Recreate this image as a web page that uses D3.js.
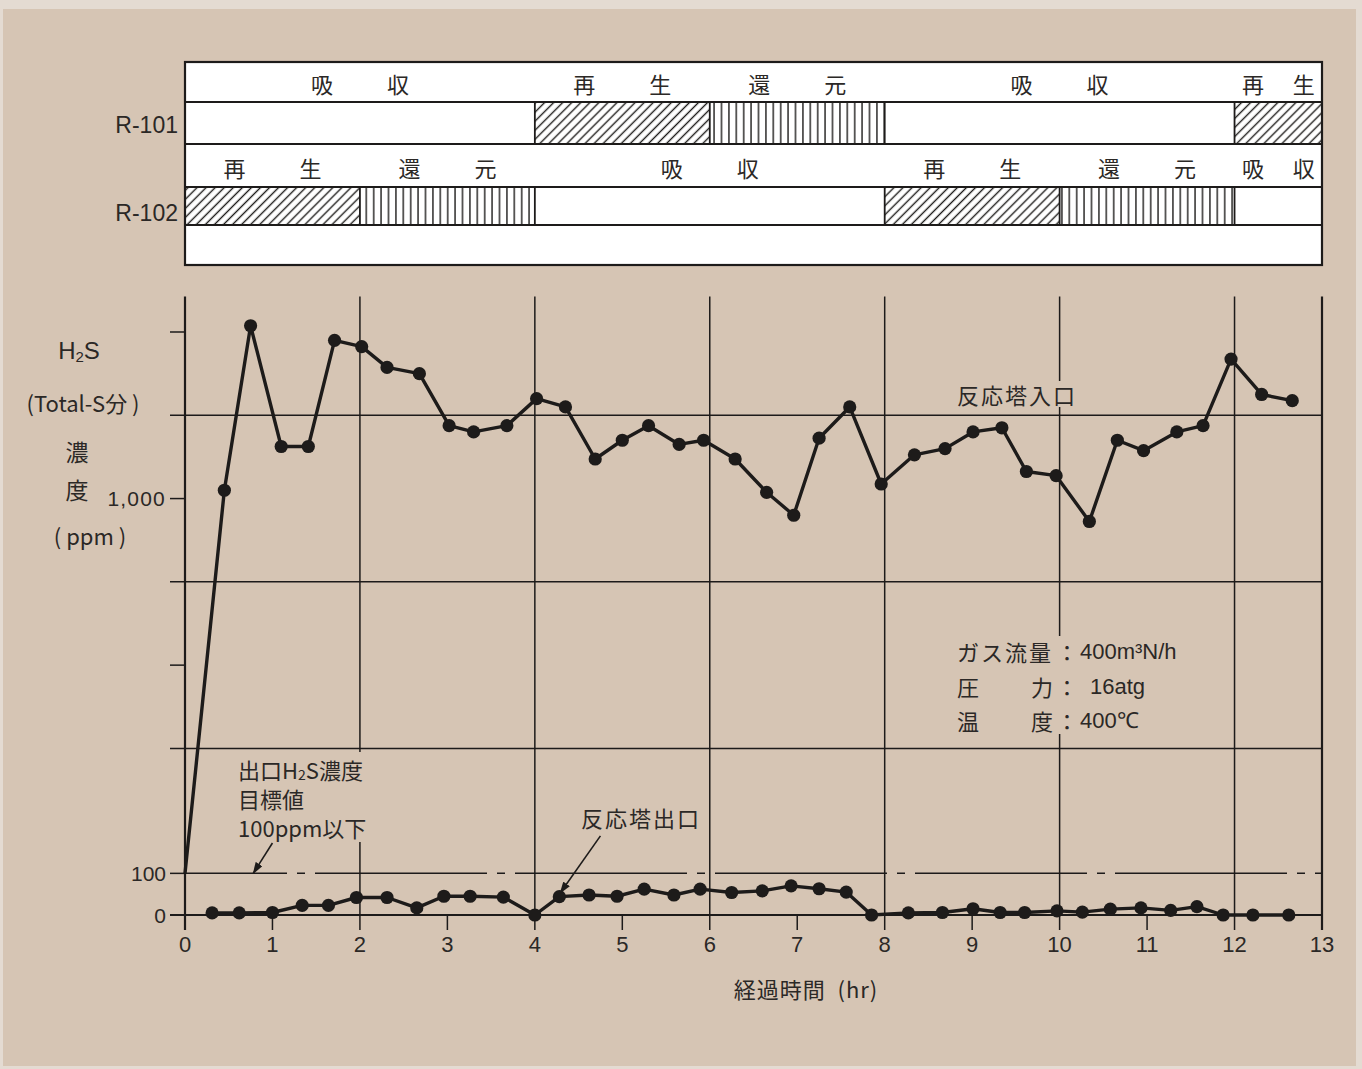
<!DOCTYPE html>
<html>
<head>
<meta charset="utf-8">
<script src="https://cdn.jsdelivr.net/npm/d3@7"></script>
<style>
  html, body { margin: 0; padding: 0; background: #d6c5b4; }
  svg { display: block; }
</style>
</head>
<body>
<svg id="chart" width="1362" height="1069"></svg>
<script>
// ---- data ---------------------------------------------------------------
// Elapsed time (hr) and H2S (Total-S) concentration (ppm) at the reactor inlet
const inletHours = [0, 0.45, 0.75, 1.10, 1.41, 1.71, 2.02, 2.31, 2.68, 3.02, 3.30, 3.68,
  4.02, 4.35, 4.69, 5.00, 5.30, 5.65, 5.93, 6.29, 6.65, 6.96, 7.25, 7.60, 7.96,
  8.34, 8.69, 9.01, 9.34, 9.62, 9.96, 10.34, 10.66, 10.96, 11.34, 11.64, 11.96, 12.31, 12.66];
const inletPpm = [100, 1020, 1415, 1125, 1125, 1380, 1365, 1315, 1300, 1175, 1160, 1175,
  1240, 1220, 1095, 1140, 1175, 1130, 1140, 1095, 1015, 960, 1145, 1220, 1035,
  1105, 1120, 1160, 1170, 1065, 1055, 945, 1140, 1115, 1160, 1175, 1335, 1250, 1235];

// Reactor outlet
const outletHours = [0.31, 0.62, 1.00, 1.34, 1.64, 1.96, 2.31, 2.65, 2.96, 3.26, 3.64, 4.00,
  4.28, 4.62, 4.94, 5.25, 5.59, 5.89, 6.25, 6.60, 6.93, 7.25, 7.56, 7.85,
  8.27, 8.66, 9.01, 9.32, 9.60, 9.97, 10.26, 10.58, 10.93, 11.27, 11.57, 11.87, 12.21, 12.62];
const outletPpm = [5, 5, 6, 23, 23, 42, 42, 17, 45, 45, 43, 0,
  44, 48, 45, 62, 48, 62, 54, 58, 70, 63, 55, 0,
  5, 6, 15, 6, 6, 10, 7, 14, 17, 11, 20, 0, 0, 0];

// Operating schedule of the two reactors (hr)
const r101Phase = ["吸収", "再生", "還元", "吸収", "再生"];
const r101Start = [0, 4, 6, 8, 12];
const r101End   = [4, 6, 8, 12, 13];
const r102Phase = ["再生", "還元", "吸収", "再生", "還元", "吸収"];
const r102Start = [0, 2, 4, 8, 10, 12];
const r102End   = [2, 4, 8, 10, 12, 13];

// Axes
const xTicks = d3.range(0, 14);
const xGridHours = [2, 4, 6, 8, 10, 12];
const yGridPpm = [400, 800, 1200];
const yTickOnlyPpm = [600, 1000, 1400];
const yLabelPpm = [0, 100, 1000];
const targetPpm = 100;
const yTopPpm = 1485;

// Operating conditions
const condLabels = ["ガス流量", "圧力", "温度"];
const condValues = ["400m³N/h", "16atg", "400℃"];

// ---- drawing ------------------------------------------------------------
const bg = "#d6c5b4";
const paperEdge = "#e4dbd2";
const ink = "#1d1b1a";
const textInk = "#2b2826";
const jp = "'Noto Sans CJK JP', 'Noto Sans', sans-serif";
const latin = "'Liberation Sans', Arial, sans-serif";

const svg = d3.select("#chart");
svg.append("rect").attr("width", 1362).attr("height", 1069).attr("fill", paperEdge);
svg.append("rect").attr("x", 3).attr("y", 9).attr("width", 1353).attr("height", 1057).attr("fill", bg);

const x = d3.scaleLinear().domain([0, 13]).range([185, 1322]);
const y = d3.scaleLinear().domain([0, yTopPpm]).range([915, 296.6]);

const defs = svg.append("defs");
defs.append("pattern")
  .attr("id", "hatchDiag").attr("patternUnits", "userSpaceOnUse")
  .attr("width", 6.4).attr("height", 6.4).attr("patternTransform", "rotate(45)")
  .append("line").attr("x1", 3.2).attr("y1", -1).attr("x2", 3.2).attr("y2", 7.4)
  .attr("stroke", ink).attr("stroke-width", 1.4);
defs.append("pattern")
  .attr("id", "hatchVert").attr("patternUnits", "userSpaceOnUse")
  .attr("width", 7.4).attr("height", 10)
  .append("line").attr("x1", 3.7).attr("y1", -1).attr("x2", 3.7).attr("y2", 11)
  .attr("stroke", ink).attr("stroke-width", 1.4);
defs.append("marker")
  .attr("id", "arrow").attr("markerUnits", "userSpaceOnUse")
  .attr("viewBox", "0 0 12 8").attr("refX", 11).attr("refY", 4)
  .attr("markerWidth", 12).attr("markerHeight", 8).attr("orient", "auto")
  .append("path").attr("d", "M0,0 L12,4 L0,8 Z").attr("fill", ink);

// ---- schedule panel ----
const panel = svg.append("g");
const rowY = [62, 102, 144, 187, 225, 265];
panel.append("rect")
  .attr("x", x(0)).attr("y", rowY[0])
  .attr("width", x(13) - x(0)).attr("height", rowY[5] - rowY[0])
  .attr("fill", "#ffffff").attr("stroke", ink).attr("stroke-width", 2.2);

const hatchOf = { "再生": "url(#hatchDiag)", "還元": "url(#hatchVert)", "吸収": null };

function drawReactor(name, phases, starts, ends, labelTop, barTop, barBottom, nameY) {
  const segs = phases.map((p, i) => ({ p, s: starts[i], e: ends[i] }));
  const g = panel.append("g");
  g.selectAll("rect.seg").data(segs.filter(d => hatchOf[d.p])).join("rect")
    .attr("x", d => x(d.s)).attr("y", barTop)
    .attr("width", d => x(d.e) - x(d.s)).attr("height", barBottom - barTop)
    .attr("fill", d => hatchOf[d.p]);
  // segment boundaries
  g.selectAll("line.edge").data(segs.slice(1)).join("line")
    .attr("x1", d => x(d.s)).attr("x2", d => x(d.s))
    .attr("y1", barTop).attr("y2", barBottom)
    .attr("stroke", ink).attr("stroke-width", 1.8);
  // phase names, characters spread over the segment
  segs.forEach(d => {
    const cx = (x(d.s) + x(d.e)) / 2;
    const off = Math.min(38, (x(d.e) - x(d.s)) * 0.29);
    [...d.p].forEach((ch, k) => {
      g.append("text")
        .attr("x", cx + (k === 0 ? -off : off)).attr("y", labelTop)
        .attr("text-anchor", "middle").attr("dominant-baseline", "central")
        .attr("font-family", jp).attr("font-size", 22).attr("fill", textInk)
        .text(ch);
    });
  });
  g.append("text")
    .attr("x", 178).attr("y", nameY)
    .attr("text-anchor", "end").attr("dominant-baseline", "central")
    .attr("font-family", latin).attr("font-size", 23).attr("fill", textInk)
    .text(name);
}

[rowY[1], rowY[2], rowY[3], rowY[4]].forEach(yy => {
  panel.append("line").attr("x1", x(0)).attr("x2", x(13))
    .attr("y1", yy).attr("y2", yy).attr("stroke", ink).attr("stroke-width", 1.8);
});
drawReactor("R-101", r101Phase, r101Start, r101End, 83, rowY[1], rowY[2], 125);
drawReactor("R-102", r102Phase, r102Start, r102End, 167, rowY[3], rowY[4], 213);

// ---- grid and axes ----
const grid = svg.append("g").attr("stroke", ink).attr("fill", "none");
const yTop = y(yTopPpm);
const yBottomTick = y(0) + 15;

grid.selectAll("line.hg").data(yGridPpm).join("line")
  .attr("x1", x(0) - 15).attr("x2", x(13))
  .attr("y1", d => y(d)).attr("y2", d => y(d)).attr("stroke-width", 1.5);
grid.selectAll("line.ht").data(yTickOnlyPpm).join("line")
  .attr("x1", x(0) - 15).attr("x2", x(0))
  .attr("y1", d => y(d)).attr("y2", d => y(d)).attr("stroke-width", 1.5);
// target line (dash-dot)
grid.append("line").attr("x1", x(0) - 15).attr("x2", x(0))
  .attr("y1", y(targetPpm)).attr("y2", y(targetPpm)).attr("stroke-width", 1.5);
grid.append("line").attr("x1", x(0)).attr("x2", x(13))
  .attr("y1", y(targetPpm)).attr("y2", y(targetPpm)).attr("stroke-width", 1.5)
  .attr("stroke-dasharray", "172,10,8,10").attr("stroke-dashoffset", 70);

grid.selectAll("line.vg").data(xGridHours).join("line")
  .attr("x1", d => x(d)).attr("x2", d => x(d))
  .attr("y1", yTop).attr("y2", yBottomTick).attr("stroke-width", 1.5);
grid.selectAll("line.vt").data(xTicks.filter(t => !xGridHours.includes(t))).join("line")
  .attr("x1", d => x(d)).attr("x2", d => x(d))
  .attr("y1", d => (d === 0 || d === 13) ? yTop : y(0)).attr("y2", yBottomTick)
  .attr("stroke-width", d => (d === 0 || d === 13) ? 2.2 : 1.5);
grid.append("line").attr("x1", x(0) - 15).attr("x2", x(13))
  .attr("y1", y(0)).attr("y2", y(0)).attr("stroke-width", 2.2);

// tick labels
svg.append("g").selectAll("text").data(xTicks).join("text")
  .attr("x", d => x(d)).attr("y", 944)
  .attr("text-anchor", "middle").attr("dominant-baseline", "central")
  .attr("font-family", latin).attr("font-size", 22).attr("fill", textInk)
  .text(d => d);
svg.append("g").selectAll("text").data(yLabelPpm).join("text")
  .attr("x", 166).attr("y", d => y(d))
  .attr("text-anchor", "end").attr("dominant-baseline", "central")
  .attr("font-family", latin).attr("font-size", 21).attr("fill", textInk)
  .attr("letter-spacing", d => d >= 1000 ? 1.2 : 0)
  .text(d => d3.format(",")(d));

svg.append("text").attr("x", 806).attr("y", 988)
  .attr("text-anchor", "middle").attr("dominant-baseline", "central")
  .attr("font-family", jp).attr("font-size", 22).attr("letter-spacing", 1)
  .attr("fill", textInk).attr("xml:space", "preserve")
  .text("経過時間  (hr)");

// y-axis title
const yt = svg.append("g").attr("fill", textInk).attr("text-anchor", "middle")
  .attr("dominant-baseline", "central");
const h2s = yt.append("text").attr("x", 79).attr("y", 350)
  .attr("font-family", latin).attr("font-size", 24);
h2s.append("tspan").text("H");
h2s.append("tspan").attr("font-size", 15).attr("dy", 6).text("2");
h2s.append("tspan").attr("dy", -6).text("S");
yt.append("text").attr("x", 83).attr("y", 402).attr("font-family", jp).attr("font-size", 22)
  .attr("xml:space", "preserve").text("(Total-S分 )");
yt.append("text").attr("x", 77).attr("y", 451).attr("font-family", jp).attr("font-size", 23).text("濃");
yt.append("text").attr("x", 77).attr("y", 489).attr("font-family", jp).attr("font-size", 23).text("度");
yt.append("text").attr("x", 90).attr("y", 535).attr("font-family", jp).attr("font-size", 22)
  .attr("xml:space", "preserve").text("( ppm )");

// ---- annotations (with a paper-coloured backing so grid lines break behind them) ----
const ann = svg.append("g").attr("font-family", jp).attr("font-size", 22).attr("fill", textInk);
ann.append("rect").attr("x", 234).attr("y", 752).attr("width", 148).attr("height", 90).attr("fill", bg);
const t1 = ann.append("text").attr("x", 238).attr("y", 769).attr("dominant-baseline", "central");
t1.append("tspan").text("出口H");
t1.append("tspan").attr("font-size", 14).attr("dy", 5).text("2");
t1.append("tspan").attr("dy", -5).text("S濃度");
ann.append("text").attr("x", 238).attr("y", 798).attr("dominant-baseline", "central").text("目標値");
ann.append("text").attr("x", 238).attr("y", 827).attr("dominant-baseline", "central").text("100ppm以下");

ann.append("rect").attr("x", 953).attr("y", 381).attr("width", 128).attr("height", 26).attr("fill", bg);
ann.append("text").attr("x", 957).attr("y", 394).attr("dominant-baseline", "central")
  .attr("letter-spacing", 2).text("反応塔入口");
ann.append("text").attr("x", 581).attr("y", 817).attr("dominant-baseline", "central")
  .attr("letter-spacing", 2).text("反応塔出口");

// arrows point at positions on the data
svg.append("line")
  .attr("x1", x(1.0)).attr("y1", y(173)).attr("x2", x(0.78)).attr("y2", y(100))
  .attr("stroke", ink).attr("stroke-width", 1.6).attr("marker-end", "url(#arrow)");
svg.append("line")
  .attr("x1", x(4.75)).attr("y1", y(190)).attr("x2", x(4.29)).attr("y2", y(53))
  .attr("stroke", ink).attr("stroke-width", 1.6).attr("marker-end", "url(#arrow)");

// operating conditions block
ann.append("rect").attr("x", 952).attr("y", 636).attr("width", 244).attr("height", 98).attr("fill", bg);
const condY = [651, 686, 720];
condLabels.forEach((lab, i) => {
  const t = ann.append("text").attr("y", condY[i]).attr("dominant-baseline", "central");
  if (lab.length === 4) {
    t.append("tspan").attr("x", 957).attr("letter-spacing", 2).text(lab);
  } else {
    t.append("tspan").attr("x", 957).text(lab[0]);
    t.append("tspan").attr("x", 1031).text(lab[1]);
  }
  t.append("tspan").attr("x", 1056).text("：");
  t.append("tspan").attr("x", i === 1 ? 1090 : 1080).attr("font-family", latin).text(condValues[i]);
});

// ---- series ----
const line = d3.line().x(d => x(d[0])).y(d => y(d[1]));
const inlet = inletHours.map((h, i) => [h, inletPpm[i]]);
const outlet = outletHours.map((h, i) => [h, outletPpm[i]]);

const series = svg.append("g");
series.append("path").datum(inlet).attr("d", line)
  .attr("fill", "none").attr("stroke", ink).attr("stroke-width", 3.4).attr("stroke-linejoin", "round");
series.selectAll("circle.in").data(inlet.slice(1)).join("circle")
  .attr("cx", d => x(d[0])).attr("cy", d => y(d[1])).attr("r", 6.6).attr("fill", ink);
series.append("path").datum(outlet).attr("d", line)
  .attr("fill", "none").attr("stroke", ink).attr("stroke-width", 3.4).attr("stroke-linejoin", "round");
series.selectAll("circle.out").data(outlet).join("circle")
  .attr("cx", d => x(d[0])).attr("cy", d => y(d[1])).attr("r", 6.6).attr("fill", ink);
</script>
</body>
</html>
